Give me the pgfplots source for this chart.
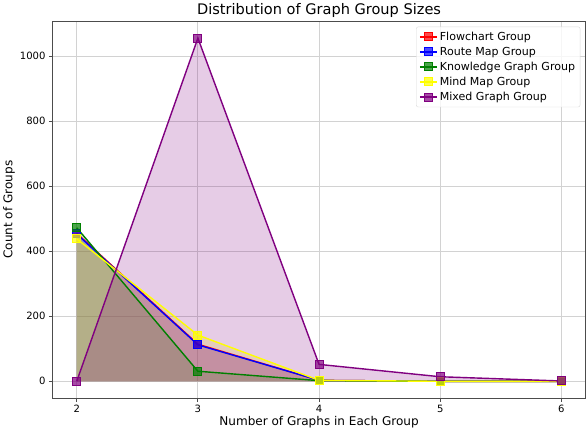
\documentclass[border=0pt]{standalone}
\usepackage{pgfplots}
\pgfplotsset{compat=1.18}
\usepgfplotslibrary{fillbetween}
\usepackage{fontspec}
\setmainfont{DejaVu Sans}
\definecolor{mgreen}{HTML}{008000}
\definecolor{mpurple}{HTML}{800080}
\definecolor{myellow}{HTML}{FFFF00}

\begin{document}
\begin{tikzpicture}
\begin{axis}[
  scale only axis, width=531pt, height=376pt,
  xmin=1.8, xmax=6.2, ymin=-52.75, ymax=1107.75,
  xtick={2,3,4,5,6}, ytick={0,200,400,600,800,1000},
  /pgf/number format/assume math mode=true,
  /pgf/number format/1000 sep={},
  tick label style={font=\fontsize{10}{12}\selectfont},
  tick align=outside, tick pos=left,
  major tick length=3.5pt,
  every tick/.style={black!70, line width=0.8pt},
  axis line style={black!70, line width=0.8pt},
  grid=major, grid style={gray!35, line width=0.8pt},
  title={Distribution of Graph Group Sizes},
  title style={font=\fontsize{14.5}{16}\selectfont, yshift=-6pt},
  xlabel={Number of Graphs in Each Group},
  ylabel={Count of Groups},
  label style={font=\fontsize{12}{14}\selectfont},
  xlabel style={yshift=4pt},
  ylabel style={yshift=-2pt},
  legend style={at={(0.99,0.985)}, anchor=north east, font=\fontsize{11}{13}\selectfont,
    draw=gray!30, rounded corners=2pt, fill=white, fill opacity=0.8, text opacity=1,
    row sep=1.2pt, inner sep=3pt},
  legend cell align=left,
]
% zero line for fills
\addplot[draw=none, name path=zero, forget plot] coordinates {(2,0) (6,0)};
\addplot[draw=none, name path=fc, forget plot] coordinates {(2,455) (3,114) (4,3) (5,0) (6,0)};
\addplot[draw=none, name path=rm, forget plot] coordinates {(2,453) (3,112) (4,3) (5,0) (6,0)};
\addplot[draw=none, name path=kg, forget plot] coordinates {(2,472) (3,31) (4,2) (5,0) (6,0)};
\addplot[draw=none, name path=mm, forget plot] coordinates {(2,438) (3,142) (4,3) (5,0) (6,0)};
\addplot[draw=none, name path=mx, forget plot] coordinates {(2,0) (3,1055) (4,52) (5,14) (6,1)};
\addplot[red, fill opacity=0.2, forget plot] fill between[of=fc and zero];
\addplot[blue, fill opacity=0.2, forget plot] fill between[of=rm and zero];
\addplot[mgreen, fill opacity=0.2, forget plot] fill between[of=kg and zero];
\addplot[myellow, fill opacity=0.2, forget plot] fill between[of=mm and zero];
\addplot[mpurple, fill opacity=0.2, forget plot] fill between[of=mx and zero];
% lines
\addplot[red, line width=1.4pt, mark=square*, mark size=4pt, mark options={fill opacity=0.7, line width=1pt}]
  coordinates {(2,455) (3,114) (4,3) (5,0) (6,0)};
\addplot[blue, line width=1.4pt, mark=square*, mark size=4pt, mark options={fill opacity=0.7, line width=1pt}]
  coordinates {(2,453) (3,112) (4,3) (5,0) (6,0)};
\addplot[mgreen, line width=1.4pt, mark=square*, mark size=4pt, mark options={fill opacity=0.7, line width=1pt}]
  coordinates {(2,472) (3,31) (4,2) (5,0) (6,0)};
\addplot[myellow, line width=1.4pt, mark=square*, mark size=4pt, mark options={fill opacity=0.7, line width=1pt}]
  coordinates {(2,438) (3,142) (4,3) (5,0) (6,0)};
\addplot[mpurple, line width=1.4pt, mark=square*, mark size=4pt, mark options={fill opacity=0.7, line width=1pt}]
  coordinates {(2,0) (3,1055) (4,52) (5,14) (6,1)};
\legend{Flowchart Group, Route Map Group, Knowledge Graph Group, Mind Map Group, Mixed Graph Group}
\end{axis}
\end{tikzpicture}
\end{document}
